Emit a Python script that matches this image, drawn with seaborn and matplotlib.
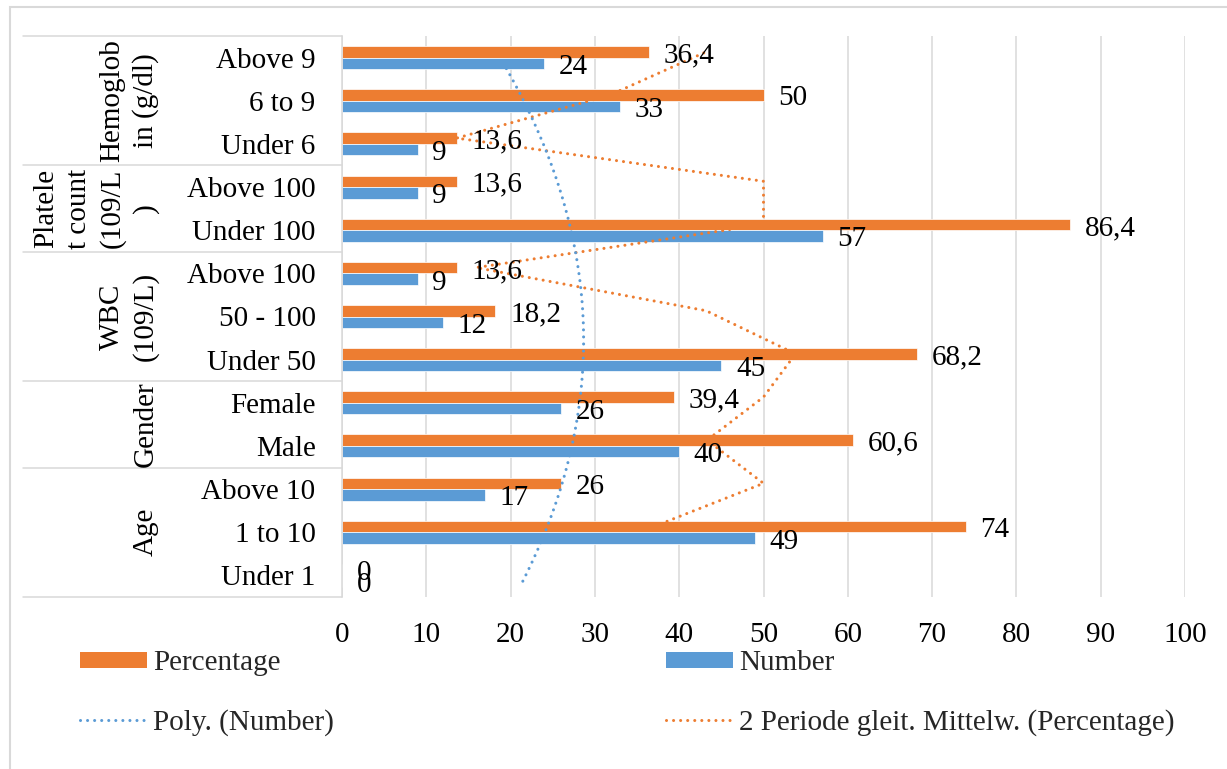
import numpy as np
import pandas as pd
import matplotlib
matplotlib.use("Agg")
import matplotlib.pyplot as plt
import matplotlib.transforms as mtransforms
from matplotlib.patches import Patch, Rectangle
from matplotlib.lines import Line2D
import seaborn as sns

# ---- data (listed top to bottom as drawn) ----
groups = ["Hemoglob\nin (g/dl)", "Platele\nt count\n(109/L\n)", "WBC\n(109/L)", "Gender", "Age"]
group_sizes = [3, 2, 3, 2, 3]
categories = ["Above 9", "6 to 9", "Under 6",
              "Above 100", "Under 100",
              "Above 100", "50 - 100", "Under 50",
              "Female", "Male",
              "Above 10", "1 to 10", "Under 1"]
percentage = [36.4, 50, 13.6, 13.6, 86.4, 13.6, 18.2, 68.2, 39.4, 60.6, 26, 74, 0]
number = [24, 33, 9, 9, 57, 9, 12, 45, 26, 40, 17, 49, 0]
x_ticks = [0, 10, 20, 30, 40, 50, 60, 70, 80, 90, 100]
series_names = ["Percentage", "Number"]
trend_names = ["Poly. (Number)", "2 Periode gleit. Mittelw. (Percentage)"]

ORANGE = "#ED7D31"
BLUE = "#5B9BD5"
GRID = "#D9D9D9"
FS = 21

sns.set_theme(style="white")
plt.rcParams["font.family"] = ["Liberation Serif", "DejaVu Serif"]
plt.rcParams["font.size"] = FS

W, H = 1227, 769
fig = plt.figure(figsize=(W / 100, H / 100), dpi=100)
fig.patch.set_facecolor("white")
ax = fig.add_axes([342 / W, 1 - 597 / H, 843 / W, 561 / H])

# unique keys so repeated labels ("Above 100") stay separate rows
group_of = np.repeat(np.arange(len(groups)), group_sizes)
keys = [f"{g}:{c}" for g, c in zip(group_of, categories)]
df = pd.DataFrame({
    "key": keys * 2,
    "value": percentage + number,
    "series": [series_names[0]] * len(keys) + [series_names[1]] * len(keys),
})

sns.barplot(data=df, y="key", x="value", hue="series", order=keys,
            hue_order=series_names, palette=[ORANGE, BLUE], saturation=1,
            width=0.534, orient="h", errorbar=None, legend=False, ax=ax,
            edgecolor="white", linewidth=0.5, zorder=2)

ax.set_xlim(0, 100)
ax.set_ylim(len(keys) - 0.5, -0.5)
ax.set_xticks(x_ticks)
ax.set_xticklabels([str(t) for t in x_ticks])
ax.set_yticks(range(len(keys)))
ax.set_yticklabels(categories)
ax.set_xlabel("")
ax.set_ylabel("")
ax.grid(axis="x", color=GRID, lw=1.1)
ax.grid(axis="y", visible=False)
ax.set_axisbelow(True)
for s in ["top", "right", "bottom"]:
    ax.spines[s].set_visible(False)
ax.spines["left"].set_color(GRID)
ax.spines["left"].set_linewidth(1.1)
ax.tick_params(axis="y", length=0, pad=19, labelsize=FS, colors="black")
ax.tick_params(axis="x", length=0, pad=18, labelsize=FS, colors="black")


def fmt(v):
    return f"{v:g}".replace(".", ",")


# bar centres per series, read back from the drawn patches
centres = {name: [None] * len(keys) for name in series_names}
for cont in ax.containers:
    for patch in cont:
        yc = patch.get_y() + patch.get_height() / 2
        idx = int(round(yc))
        name = series_names[0] if yc < idx else series_names[1]
        centres[name][idx] = yc

for name, vals in zip(series_names, [percentage, number]):
    for idx, v in enumerate(vals):
        ax.annotate(fmt(v), xy=(v, centres[name][idx]), xytext=(10.5, -2.5),
                    textcoords="offset points", ha="left", va="center",
                    fontsize=FS, color="black", zorder=6)

dot_style = dict(lw=2.2, linestyle=(0, (0.01, 2.3)), dash_capstyle="round")

# 2-period moving average of Percentage (series runs bottom to top)
pct_up = pd.Series(percentage[::-1], dtype=float)
ma = pct_up.rolling(2).mean()
y_pct_up = np.array(centres[series_names[0]][::-1])
ax.plot(ma.values[1:], y_pct_up[1:], color=ORANGE, zorder=4, **dot_style)

# quadratic trend of Number
num_up = np.array(number[::-1], dtype=float)
k = np.arange(1, len(num_up) + 1)
coef = np.polyfit(k, num_up, 2)
kk = np.linspace(1, len(num_up), 300)
blue_off = centres[series_names[1]][0]
ax.plot(np.polyval(coef, kk), (len(num_up) - kk) + blue_off, color=BLUE,
        zorder=4, **dot_style)

# multi-level category axis: group separators and rotated group names
blend = mtransforms.blended_transform_factory(ax.transAxes, ax.transData)
bounds = np.concatenate([[0], np.cumsum(group_sizes)]) - 0.5
x_left = (23 - 342) / 843
for b in bounds:
    ax.plot([x_left, 0], [b, b], color=GRID, lw=1.1, transform=blend,
            clip_on=False, zorder=1)
x_grp = (159 - 342) / 843
for g, lo, hi in zip(groups, bounds[:-1], bounds[1:]):
    ax.text(x_grp, (lo + hi) / 2, g, rotation=90, ha="right", va="center",
            multialignment="center", linespacing=1.32, fontsize=FS,
            transform=blend, color="black")

# legend
handles = [
    Patch(facecolor=ORANGE, edgecolor="none"),
    Line2D([], [], color=BLUE, **dot_style),
    Patch(facecolor=BLUE, edgecolor="none"),
    Line2D([], [], color=ORANGE, **dot_style),
]
labels = [series_names[0], trend_names[0], series_names[1], trend_names[1]]
fig.legend(handles, labels, ncol=2, loc="upper left",
           bbox_to_anchor=(80 / W, 1 - 650 / H), frameon=False,
           borderpad=0, borderaxespad=0, handlelength=2.3, handletextpad=0.2,
           columnspacing=11.4, labelspacing=1.13, handleheight=0.48,
           fontsize=FS)

# chart-area border
fig.patches.append(Rectangle((10 / W, -0.05), 1.2, 1 - 7 / H + 0.05,
                             transform=fig.transFigure, fill=False,
                             edgecolor=GRID, lw=1.5))

fig.savefig("out.png", dpi=100)
